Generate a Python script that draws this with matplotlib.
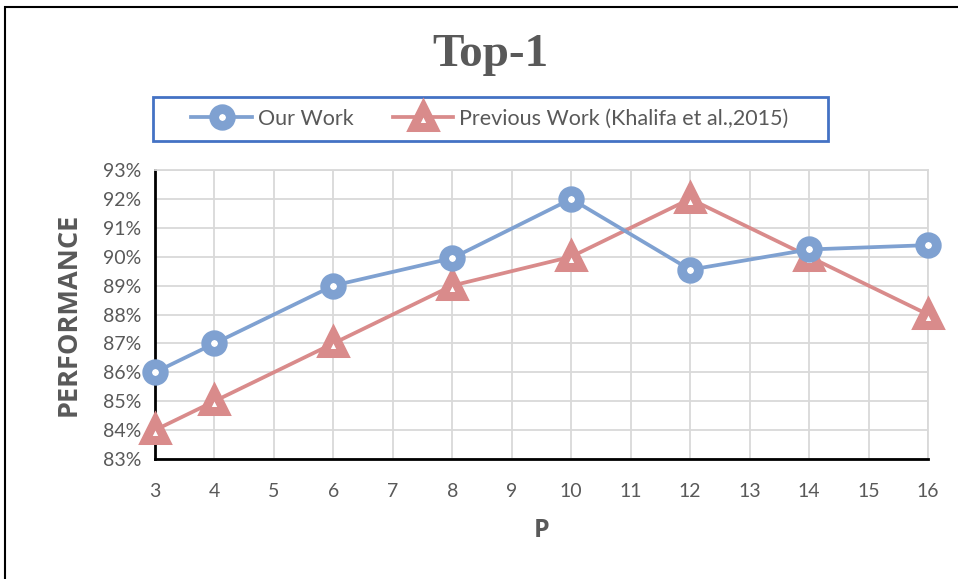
import matplotlib.pyplot as plt
from matplotlib.patches import Rectangle
from matplotlib.ticker import PercentFormatter

# values
p_values = [3, 4, 6, 8, 10, 12, 14, 16]
our_work = [86.0, 87.0, 89.0, 89.95, 92.0, 89.55, 90.25, 90.4]
prev_work = [84.0, 85.0, 87.0, 89.0, 90.0, 92.0, 90.0, 88.0]
x_ticks = list(range(3, 17))
y_ticks = list(range(83, 94))

blue = '#7FA1D1'
red = '#D98B8B'
gray_text = '#595959'

plt.rcParams['font.family'] = ['Lato', 'DejaVu Sans']

fig = plt.figure(figsize=(9.58, 5.79), dpi=100)
ax = fig.add_axes([155 / 958, 1 - 459 / 579, 773 / 958, 289 / 579])

ax.plot(p_values, prev_work, color=red, lw=2.7, marker='^', ms=14,
        mfc='white', mec=red, mew=6.5, label='Previous Work (Khalifa et al.,2015)',
        solid_joinstyle='round', clip_on=False, zorder=3)
ax.plot(p_values, our_work, color=blue, lw=2.7, marker='o', ms=12,
        mfc='white', mec=blue, mew=7, label='Our Work', clip_on=False, zorder=4)

ax.set_xlim(3, 16)
ax.set_ylim(83, 93)
ax.set_xticks(x_ticks)
ax.set_yticks(y_ticks)
ax.yaxis.set_major_formatter(PercentFormatter(decimals=0))
ax.grid(True, color='#D9D9D9', lw=1.3)
ax.set_axisbelow(True)
ax.tick_params(length=0, labelsize=14, labelcolor=gray_text)
ax.tick_params(axis='x', pad=17)
ax.tick_params(axis='y', pad=10)
for s in ['top', 'right']:
    ax.spines[s].set_color('#D9D9D9')
    ax.spines[s].set_linewidth(1.3)
for s in ['left', 'bottom']:
    ax.spines[s].set_color('black')
    ax.spines[s].set_linewidth(2)

ax.set_xlabel('P', fontsize=18, fontweight='bold', color=gray_text, labelpad=13,
              family='Open Sans')
ax.set_ylabel('PERFORMANCE', fontsize=19.5, fontweight='bold', color=gray_text, labelpad=15,
              family='Open Sans')

fig.text(490 / 958, 1 - 55 / 579, 'Top-1', ha='center', va='center',
         fontsize=34, fontweight='bold', color=gray_text, family='Liberation Serif')

# legend box
fig.patches.append(Rectangle((153 / 958, 1 - 141 / 579), 675 / 958, 44 / 579,
                             transform=fig.transFigure, fill=False,
                             edgecolor='#4472C4', lw=2))
handles, labels = ax.get_legend_handles_labels()
fig.legend(handles[::-1], labels[::-1], loc='center', bbox_to_anchor=(490 / 958, 1 - 119 / 579),
           ncol=2, frameon=False, fontsize=15.5, labelcolor=gray_text,
           handlelength=2.8, columnspacing=1.8, handletextpad=0.3)

# outer frame (top and left edges visible)
fig.patches.append(Rectangle((5 / 958, -0.05), 1.1, 1 - 7 / 579 + 0.05,
                             transform=fig.transFigure, fill=False,
                             edgecolor='black', lw=1.5))

fig.savefig('out.png', dpi=100)
